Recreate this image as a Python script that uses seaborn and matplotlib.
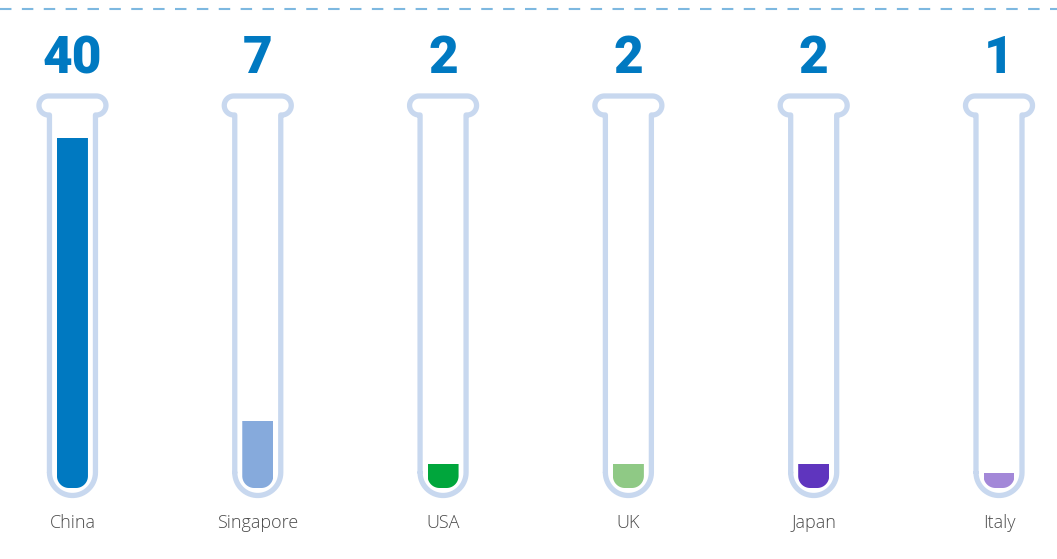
import numpy as np
import matplotlib
matplotlib.use("Agg")
import matplotlib.pyplot as plt
from matplotlib.path import Path
from matplotlib.patches import PathPatch
from matplotlib.transforms import IdentityTransform
import seaborn as sns
import pandas as pd

countries = ["China", "Singapore", "USA", "UK", "Japan", "Italy"]
counts = [40, 7, 2, 2, 2, 1]
colors = ["#0079C1", "#86AADC", "#00A63C", "#8FC985", "#5F35BE", "#A388D8"]

W, H = 1057, 559
sns.set_theme(style="white")
plt.rcParams["font.family"] = ["Roboto", "DejaVu Sans"]

fig = plt.figure(figsize=(W / 100, H / 100), dpi=100)
ax = fig.add_axes([0, 0, 1, 1])
df = pd.DataFrame({"country": countries, "count": counts})
sns.barplot(data=df, x="country", y="count", hue="country", palette=colors,
            width=0.167, legend=False, ax=ax, saturation=1, edgecolor="none")
ax.set_xlim(-0.391, 5.313)
ax.set_ylim(-9.0, 56.0)
ax.axis("off")

ident = IdentityTransform()

def d(x, y):
    return (x, H - y)

def arc(cx, cy, r, a0, a1, n=30):
    a = np.radians(np.linspace(a0, a1, n))
    return [(cx + r * np.cos(t), cy + r * np.sin(t)) for t in a]

tube_col = "#C8D8EF"
for i, p in enumerate(ax.patches):
    cx = ax.transData.transform((i, 0))[0]
    pts = [(cx - 23, 472.5), (cx - 23, 115)]
    pts += arc(cx - 24, 105.5, 9.5, 90, 270)
    pts += [(cx + 24, 96)]
    pts += arc(cx + 24, 105.5, 9.5, -90, 90)
    pts += [(cx + 23, 115), (cx + 23, 472.5)]
    pts += arc(cx, 472.5, 23, 0, 180)
    pts = [d(x, y) for x, y in pts]
    tube = PathPatch(Path(pts), facecolor="none", edgecolor=tube_col, lw=3.8,
                     joinstyle="round", capstyle="round", transform=ident, zorder=1)
    ax.add_artist(tube)
    r = 12
    cl = [(cx - 15.5, 0), (cx - 15.5, 488 - r)]
    cl += arc(cx - 15.5 + r, 488 - r, r, 180, 90)
    cl += arc(cx + 15.5 - r, 488 - r, r, 90, 0)
    cl += [(cx + 15.5, 0)]
    cl = [d(x, y) for x, y in cl]
    clip = PathPatch(Path(cl), transform=ident)
    h = p.get_height()
    p.set_y(-1.0)
    p.set_height(h + 1.0)
    p.set_clip_path(clip)
    p.set_zorder(2)
    ax.text(i, 49.1, f"{counts[i]}", ha="center", va="center", fontsize=37,
            fontweight="heavy", color="#0079C1")
    ax.text(i, -4.85, countries[i], ha="center", va="center", fontsize=13,
            fontweight=300, color="#4a4a4a", family=["Open Sans", "DejaVu Sans"])

ax.plot([0, 1], [1 - 8.5 / H] * 2, transform=ax.transAxes, color="#7DB8E0",
        lw=1.5, dashes=(5.5, 5), clip_on=False)

fig.savefig("out.png", dpi=100)
